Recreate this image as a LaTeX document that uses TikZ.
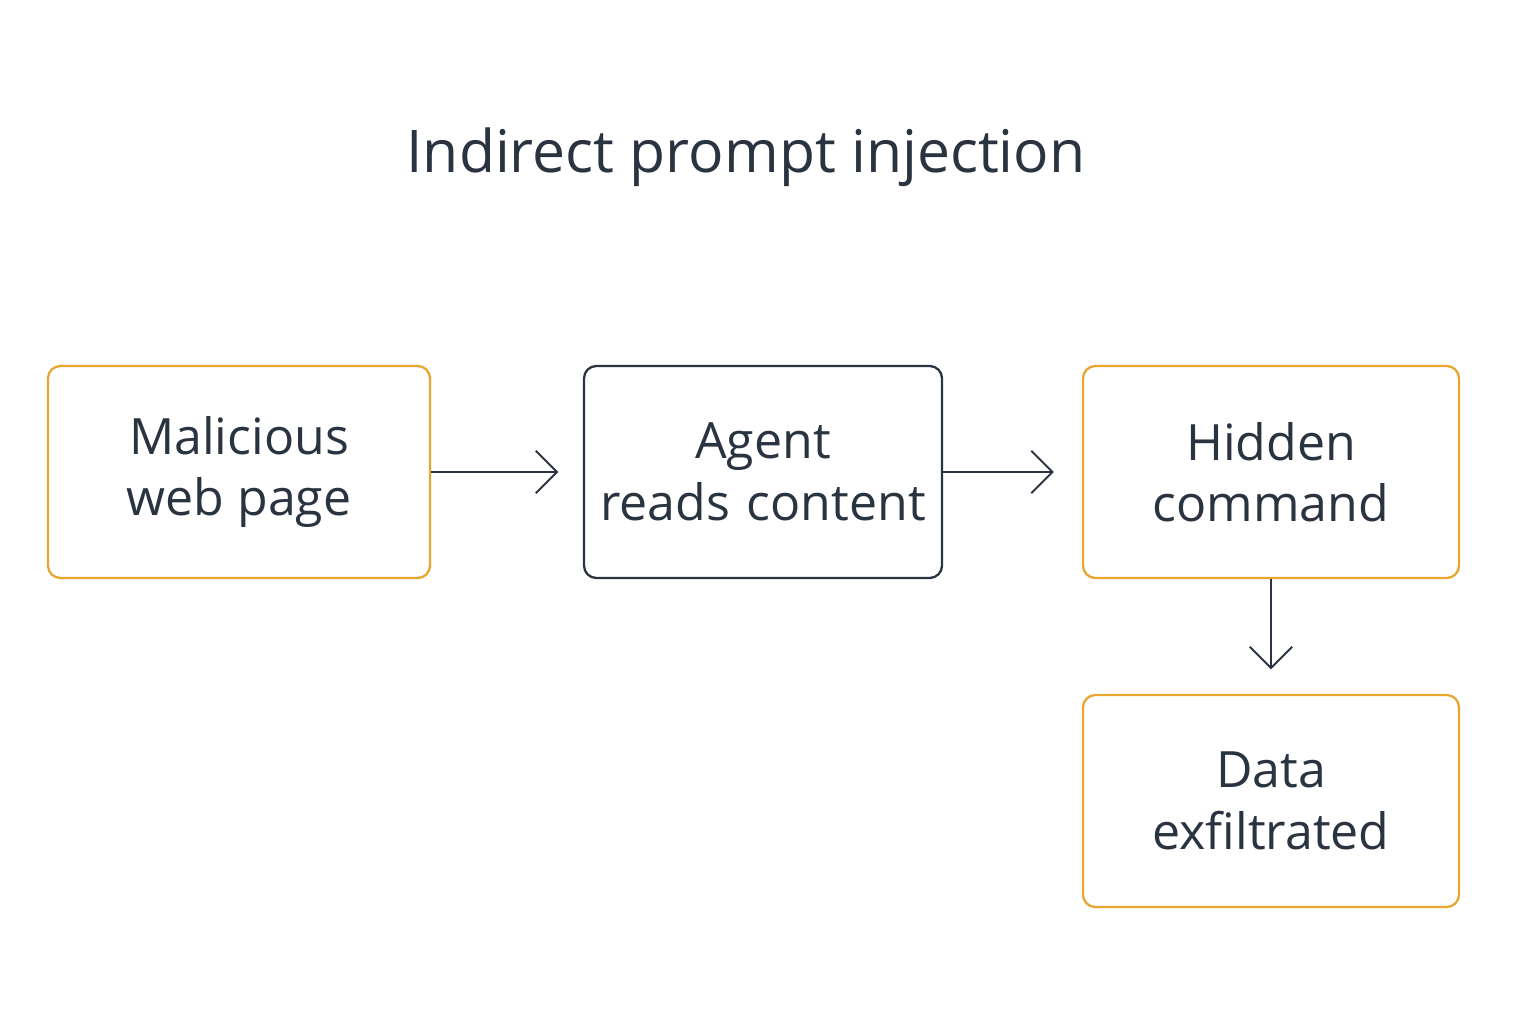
\documentclass[tikz,border=0pt]{standalone}
\usepackage{fontspec}
\setmainfont{Open Sans}
\usetikzlibrary{arrows.meta}
\definecolor{ink}{HTML}{2A3441}
\definecolor{amber}{HTML}{E8A530}
\begin{document}
\begin{tikzpicture}[x=0.02cm,y=-0.02cm,
  box/.style={draw=#1,line width=1.3pt,rounded corners=7pt,inner sep=0pt,
    text=ink,font=\fontsize{28.5}{35}\selectfont,align=center},
  arr/.style={draw=ink,line width=1.1pt,-{Straight Barb[length=12pt,width=24pt,line width=1.1pt]}}]
\useasboundingbox (0,0) rectangle (1536,1024);
\node[text=ink,font=\fontsize{33.5}{40}\selectfont] (title) at (746,157) {Indirect prompt injection};
\node[box=amber,minimum width=382*0.02cm,minimum height=212*0.02cm] (a) at (239,472) {Malicious\\web page};
\node[box=ink,text width=358*0.02cm,minimum height=212*0.02cm] (b) at (763,472) {Agent\\reads content};
\node[box=amber,minimum width=376*0.02cm,minimum height=212*0.02cm] (c) at (1271,472) {Hidden\\command};
\node[box=amber,minimum width=376*0.02cm,minimum height=212*0.02cm] (d) at (1271,801) {Data\\exfiltrated};
\draw[arr] (a.east) -- ([xshift=-14]b.west);
\draw[arr] (b.east) -- ([xshift=-16]c.west);
\draw[arr] (c.south) -- ([yshift=14]d.north);
\end{tikzpicture}
\end{document}
